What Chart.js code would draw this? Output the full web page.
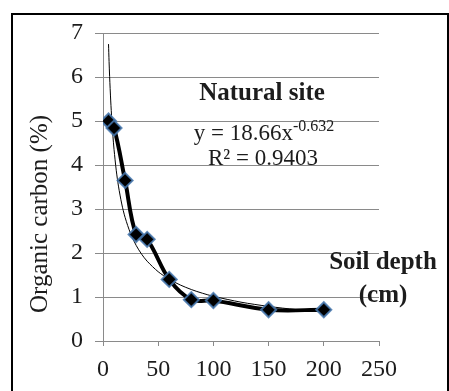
<!DOCTYPE html>
<html>
<head>
<meta charset="utf-8">
<script src="https://cdn.jsdelivr.net/npm/chart.js@4.4.1/dist/chart.umd.min.js"></script>
<style>
  html, body { margin: 0; padding: 0; background: #fff; }
  #wrap { width: 449px; height: 391px; position: relative; }
</style>
</head>
<body>
<div id="wrap"><canvas id="c" width="449" height="391"></canvas></div>
<script>
// Soil depth (cm) and measured organic carbon (%)
const depths = [5, 10, 20, 30, 40, 60, 80, 100, 150, 200];
const organicCarbon = [5.0, 4.84, 3.65, 2.42, 2.31, 1.4, 0.94, 0.92, 0.71, 0.71];

// Power trend fitted to the measurements: y = a * x^b
const trendA = 18.66;
const trendB = -0.632;
const trendDepths = [5, 5.5, 6, 7, 8, 9, 10, 12, 14, 17, 20, 25, 30, 35, 40, 50, 60, 70, 80, 90, 100, 125, 150, 175, 200];

const xTicks = [0, 50, 100, 150, 200, 250];
const yTicks = [0, 1, 2, 3, 4, 5, 6, 7];

const serif = '"Liberation Serif", "Times New Roman", serif';
const textColor = '#1c1c1c';

// Frame and free text drawn on top of the chart
const annotations = {
  id: 'annotations',
  afterDraw(chart) {
    const ctx = chart.ctx;
    ctx.save();
    // outer frame
    ctx.strokeStyle = '#000';
    ctx.lineWidth = 2;
    ctx.strokeRect(12, 14, 436, 420);

    ctx.fillStyle = textColor;
    ctx.textBaseline = 'middle';

    // y axis title
    ctx.save();
    ctx.translate(40, 214);
    ctx.rotate(-Math.PI / 2);
    ctx.textAlign = 'center';
    ctx.font = '25px ' + serif;
    ctx.fillText('Organic carbon (%)', 0, 0);
    ctx.restore();

    ctx.textAlign = 'center';
    ctx.font = 'bold 25px ' + serif;
    ctx.fillText('Natural site', 262, 94);

    // equation with superscript exponent
    ctx.font = '23px ' + serif;
    const main = 'y = ' + trendA.toFixed(2) + 'x';
    const sup = String(trendB);
    const wMain = ctx.measureText(main).width;
    ctx.font = '16px ' + serif;
    const wSup = ctx.measureText(sup).width;
    const startX = 264 - (wMain + wSup) / 2;
    ctx.textAlign = 'left';
    ctx.font = '23px ' + serif;
    ctx.fillText(main, startX, 134);
    ctx.font = '16px ' + serif;
    ctx.fillText(sup, startX + wMain, 127);

    ctx.textAlign = 'center';
    ctx.font = '23px ' + serif;
    ctx.fillText('R\u00b2 = 0.9403', 263, 159);

    ctx.font = 'bold 25px ' + serif;
    ctx.fillText('Soil depth', 383, 263);
    ctx.fillText('(cm)', 383, 296);
    ctx.restore();
  }
};

new Chart(document.getElementById('c'), {
  type: 'scatter',
  data: {
    datasets: [
      {
        label: 'Power trend',
        data: trendDepths.map(x => ({ x: x, y: trendA * Math.pow(x, trendB) })),
        showLine: true,
        borderColor: '#000',
        borderWidth: 1,
        pointRadius: 0,
        tension: 0.3,
        order: 1
      },
      {
        label: 'Natural site',
        data: depths.map((d, i) => ({ x: d, y: organicCarbon[i] })),
        showLine: true,
        borderColor: '#000',
        borderWidth: 4,
        tension: 0.35,
        pointStyle: 'rectRot',
        pointRadius: 7.5,
        pointBackgroundColor: '#000',
        pointBorderColor: 'rgba(70,120,175,0.85)',
        pointBorderWidth: 2,
        order: 0
      }
    ]
  },
  options: {
    responsive: false,
    animation: false,
    layout: { padding: { top: 33, left: 0, right: 70, bottom: 0 } },
    plugins: {
      legend: { display: false },
      tooltip: { enabled: false }
    },
    scales: {
      x: {
        type: 'linear',
        min: 0,
        max: 250,
        afterFit(scale) { scale.height = 50; },
        afterBuildTicks(scale) { scale.ticks = xTicks.map(v => ({ value: v })); },
        border: { display: true, color: '#8a8a8a', width: 1 },
        grid: { drawOnChartArea: false, drawTicks: true, tickLength: 5, color: '#8a8a8a' },
        ticks: { color: textColor, font: { family: serif, size: 24 }, padding: 9, maxRotation: 0 }
      },
      y: {
        type: 'linear',
        min: 0,
        max: 7,
        afterFit(scale) { scale.width = 103; },
        afterBuildTicks(scale) { scale.ticks = yTicks.map(v => ({ value: v })); },
        border: { display: true, color: '#8a8a8a', width: 1 },
        grid: { color: '#8a8a8a', lineWidth: 1, tickLength: 8 },
        ticks: { color: textColor, font: { family: serif, size: 24 }, padding: 12 }
      }
    }
  },
  plugins: [annotations]
});
</script>
</body>
</html>
